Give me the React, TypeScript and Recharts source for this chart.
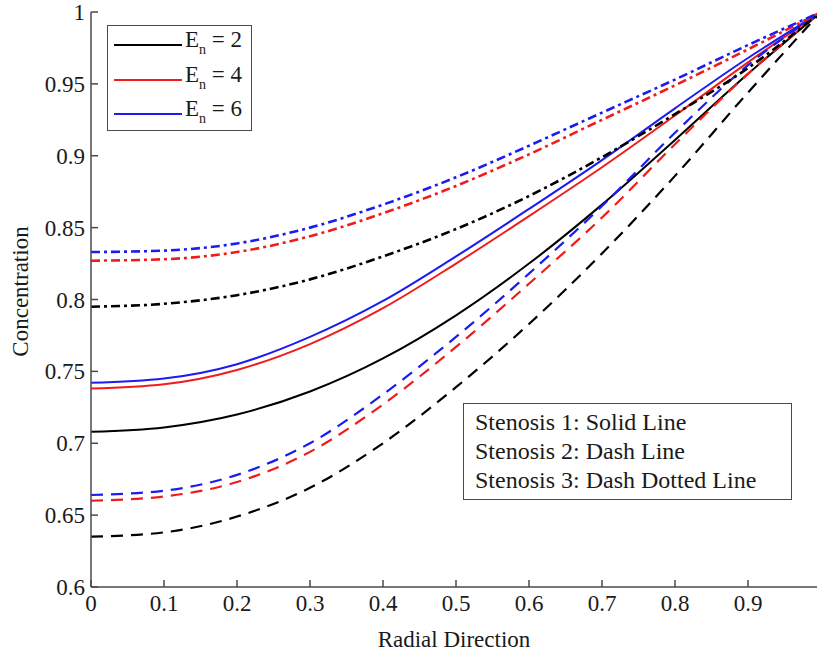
import React from 'react';
import { LineChart, Line, XAxis, YAxis } from 'recharts';

// radial positions
const radial = [0, 0.1, 0.2, 0.3, 0.4, 0.5, 0.6, 0.7, 0.8, 0.9, 1];

// Stenosis 1 (solid)
const s1En2 = [0.708, 0.711, 0.720, 0.736, 0.759, 0.789, 0.825, 0.866, 0.911, 0.957, 1];
const s1En4 = [0.738, 0.741, 0.751, 0.769, 0.794, 0.825, 0.858, 0.892, 0.928, 0.965, 1];
const s1En6 = [0.742, 0.745, 0.755, 0.774, 0.799, 0.830, 0.863, 0.897, 0.933, 0.968, 1];

// Stenosis 2 (dashed)
const s2En2 = [0.635, 0.638, 0.649, 0.669, 0.700, 0.739, 0.783, 0.832, 0.886, 0.944, 1];
const s2En4 = [0.660, 0.663, 0.673, 0.694, 0.727, 0.767, 0.811, 0.857, 0.908, 0.957, 1];
const s2En6 = [0.664, 0.667, 0.678, 0.700, 0.734, 0.774, 0.818, 0.865, 0.916, 0.963, 1];

// Stenosis 3 (dash dotted)
const s3En2 = [0.795, 0.797, 0.803, 0.814, 0.830, 0.849, 0.872, 0.899, 0.929, 0.961, 1];
const s3En4 = [0.827, 0.828, 0.833, 0.844, 0.860, 0.879, 0.901, 0.925, 0.949, 0.974, 1];
const s3En6 = [0.833, 0.834, 0.839, 0.850, 0.866, 0.885, 0.907, 0.930, 0.953, 0.977, 1];

const xTicks = [0, 0.1, 0.2, 0.3, 0.4, 0.5, 0.6, 0.7, 0.8, 0.9];
const yTicks = [0.6, 0.65, 0.7, 0.75, 0.8, 0.85, 0.9, 0.95, 1];

const enValues = [2, 4, 6];
const stenosisLabels = [
    'Stenosis 1: Solid Line',
    'Stenosis 2: Dash Line',
    'Stenosis 3: Dash Dotted Line',
];

const BLACK = '#000000';
const RED = '#f01c1c';
const BLUE = '#1c1cf0';
const enColors = [BLACK, RED, BLUE];

const DASH = '12 8';
const DASH_DOT = '9 4 3 4';

const rows = radial.map((r, i) => ({
    r,
    s1En2: s1En2[i], s1En4: s1En4[i], s1En6: s1En6[i],
    s2En2: s2En2[i], s2En4: s2En4[i], s2En6: s2En6[i],
    s3En2: s3En2[i], s3En4: s3En4[i], s3En6: s3En6[i],
}));

const series = [
    { key: 's1En2', color: BLACK, dash: undefined, width: 2 },
    { key: 's1En4', color: RED, dash: undefined, width: 2 },
    { key: 's1En6', color: BLUE, dash: undefined, width: 2 },
    { key: 's2En2', color: BLACK, dash: DASH, width: 2.2 },
    { key: 's2En4', color: RED, dash: DASH, width: 2.2 },
    { key: 's2En6', color: BLUE, dash: DASH, width: 2.2 },
    { key: 's3En2', color: BLACK, dash: DASH_DOT, width: 2.6 },
    { key: 's3En4', color: RED, dash: DASH_DOT, width: 2.6 },
    { key: 's3En6', color: BLUE, dash: DASH_DOT, width: 2.6 },
];

// plot box (page pixels, wrapper is fixed at 0,0)
const W = 830;
const H = 656;
const PLOT_LEFT = 91;
const PLOT_TOP = 12;
const PLOT_RIGHT = 821;
const PLOT_BOTTOM = 587;
const TICK_LEN = 7;

const FONT = '"Liberation Serif", "Times New Roman", serif';
const AXIS_COLOR = '#4a4a4a';
const TEXT_COLOR = '#1a1a1a';

const fmt = (v: number) => String(Number(v.toFixed(2)));

const BottomTick = (props: any) => {
    const { x, payload } = props;
    return (
        <g>
            <line x1={x} x2={x} y1={PLOT_BOTTOM} y2={PLOT_BOTTOM - TICK_LEN} stroke={AXIS_COLOR} strokeWidth={1.5} />
            <text x={x} y={PLOT_BOTTOM + 24} textAnchor="middle" fontFamily={FONT} fontSize={23} fill={TEXT_COLOR}>
                {fmt(payload.value)}
            </text>
        </g>
    );
};

const TopTick = (props: any) => {
    const { x } = props;
    return <line x1={x} x2={x} y1={PLOT_TOP} y2={PLOT_TOP + TICK_LEN} stroke={AXIS_COLOR} strokeWidth={1.5} />;
};

const LeftTick = (props: any) => {
    const { y, payload } = props;
    return (
        <g>
            <line x1={PLOT_LEFT} x2={PLOT_LEFT + TICK_LEN} y1={y} y2={y} stroke={AXIS_COLOR} strokeWidth={1.5} />
            <text x={PLOT_LEFT - 6} y={y} dy={8} textAnchor="end" fontFamily={FONT} fontSize={23} fill={TEXT_COLOR}>
                {fmt(payload.value)}
            </text>
        </g>
    );
};

const RightTick = (props: any) => {
    const { y } = props;
    return <line x1={PLOT_RIGHT} x2={PLOT_RIGHT - TICK_LEN} y1={y} y2={y} stroke={AXIS_COLOR} strokeWidth={1.5} />;
};

const XTitle = () => (
    <text x={(PLOT_LEFT + PLOT_RIGHT) / 2 - 2} y={647} textAnchor="middle" fontFamily={FONT} fontSize={23} fill={TEXT_COLOR}>
        Radial Direction
    </text>
);

const YTitle = () => (
    <text x={0} y={0} transform={`translate(28, ${(PLOT_TOP + PLOT_BOTTOM) / 2 - 8}) rotate(-90)`} textAnchor="middle"
        fontFamily={FONT} fontSize={23} fill={TEXT_COLOR}>
        Concentration
    </text>
);

const App: React.FC = () => {
    return (
        <div style={{ position: 'fixed', left: 0, top: 0, width: 817, height: 656, overflow: 'hidden', background: '#fff' }}>
            <LineChart width={W} height={H} data={rows} margin={{ top: PLOT_TOP, right: W - PLOT_RIGHT, bottom: 0, left: 0 }}>
                <XAxis
                    dataKey="r"
                    type="number"
                    domain={[0, 1]}
                    ticks={xTicks}
                    interval={0}
                    height={H - PLOT_BOTTOM}
                    tick={<BottomTick />}
                    tickLine={false}
                    axisLine={{ stroke: AXIS_COLOR, strokeWidth: 1.5 }}
                    label={<XTitle />}
                />
                <XAxis
                    xAxisId="top"
                    dataKey="r"
                    type="number"
                    orientation="top"
                    domain={[0, 1]}
                    allowDataOverflow
                    ticks={xTicks}
                    interval={0}
                    height={0}
                    tick={<TopTick />}
                    tickLine={false}
                    axisLine={{ stroke: AXIS_COLOR, strokeWidth: 1.5 }}
                />
                <YAxis
                    type="number"
                    domain={[0.6, 1]}
                    ticks={yTicks}
                    interval={0}
                    width={PLOT_LEFT}
                    tick={<LeftTick />}
                    tickLine={false}
                    axisLine={{ stroke: AXIS_COLOR, strokeWidth: 1.5 }}
                    label={<YTitle />}
                />
                <YAxis
                    yAxisId="right"
                    type="number"
                    orientation="right"
                    domain={[0.6, 1]}
                    allowDataOverflow
                    ticks={yTicks}
                    interval={0}
                    width={0}
                    tick={<RightTick />}
                    tickLine={false}
                    axisLine={{ stroke: AXIS_COLOR, strokeWidth: 1.5 }}
                />
                {series.map((s) => (
                    <Line
                        key={s.key}
                        dataKey={s.key}
                        type="monotone"
                        stroke={s.color}
                        strokeWidth={s.width}
                        strokeDasharray={s.dash}
                        dot={false}
                        activeDot={false}
                        isAnimationActive={false}
                    />
                ))}
            </LineChart>

            {/* E_n legend */}
            <div style={{
                position: 'absolute', left: 107, top: 25, width: 145, height: 106, boxSizing: 'border-box',
                border: `1.5px solid ${AXIS_COLOR}`, background: '#fff', fontFamily: FONT, color: TEXT_COLOR,
            }}>
                {enValues.map((v, i) => (
                    <div key={v} style={{ position: 'absolute', left: 6, top: 2 + i * 34.5, height: 34, display: 'flex', alignItems: 'center' }}>
                        <div style={{ width: 68, height: 0, borderTop: `2.5px solid ${enColors[i]}` }} />
                        <span style={{ fontSize: 23, marginLeft: 3, lineHeight: '34px', whiteSpace: 'nowrap' }}>
                            E<sub style={{ fontSize: 14, verticalAlign: '-7px' }}>n</sub> = {v}
                        </span>
                    </div>
                ))}
            </div>

            {/* stenosis note */}
            <div style={{
                position: 'absolute', left: 463, top: 403, width: 329, height: 97, boxSizing: 'border-box',
                border: `1.5px solid ${AXIS_COLOR}`, background: '#fff', fontFamily: FONT, color: TEXT_COLOR,
                fontSize: 24, lineHeight: '29px', padding: '4px 0 0 11px', whiteSpace: 'nowrap',
            }}>
                {stenosisLabels.map((t) => <div key={t}>{t}</div>)}
            </div>
        </div>
    );
};

export default App;
